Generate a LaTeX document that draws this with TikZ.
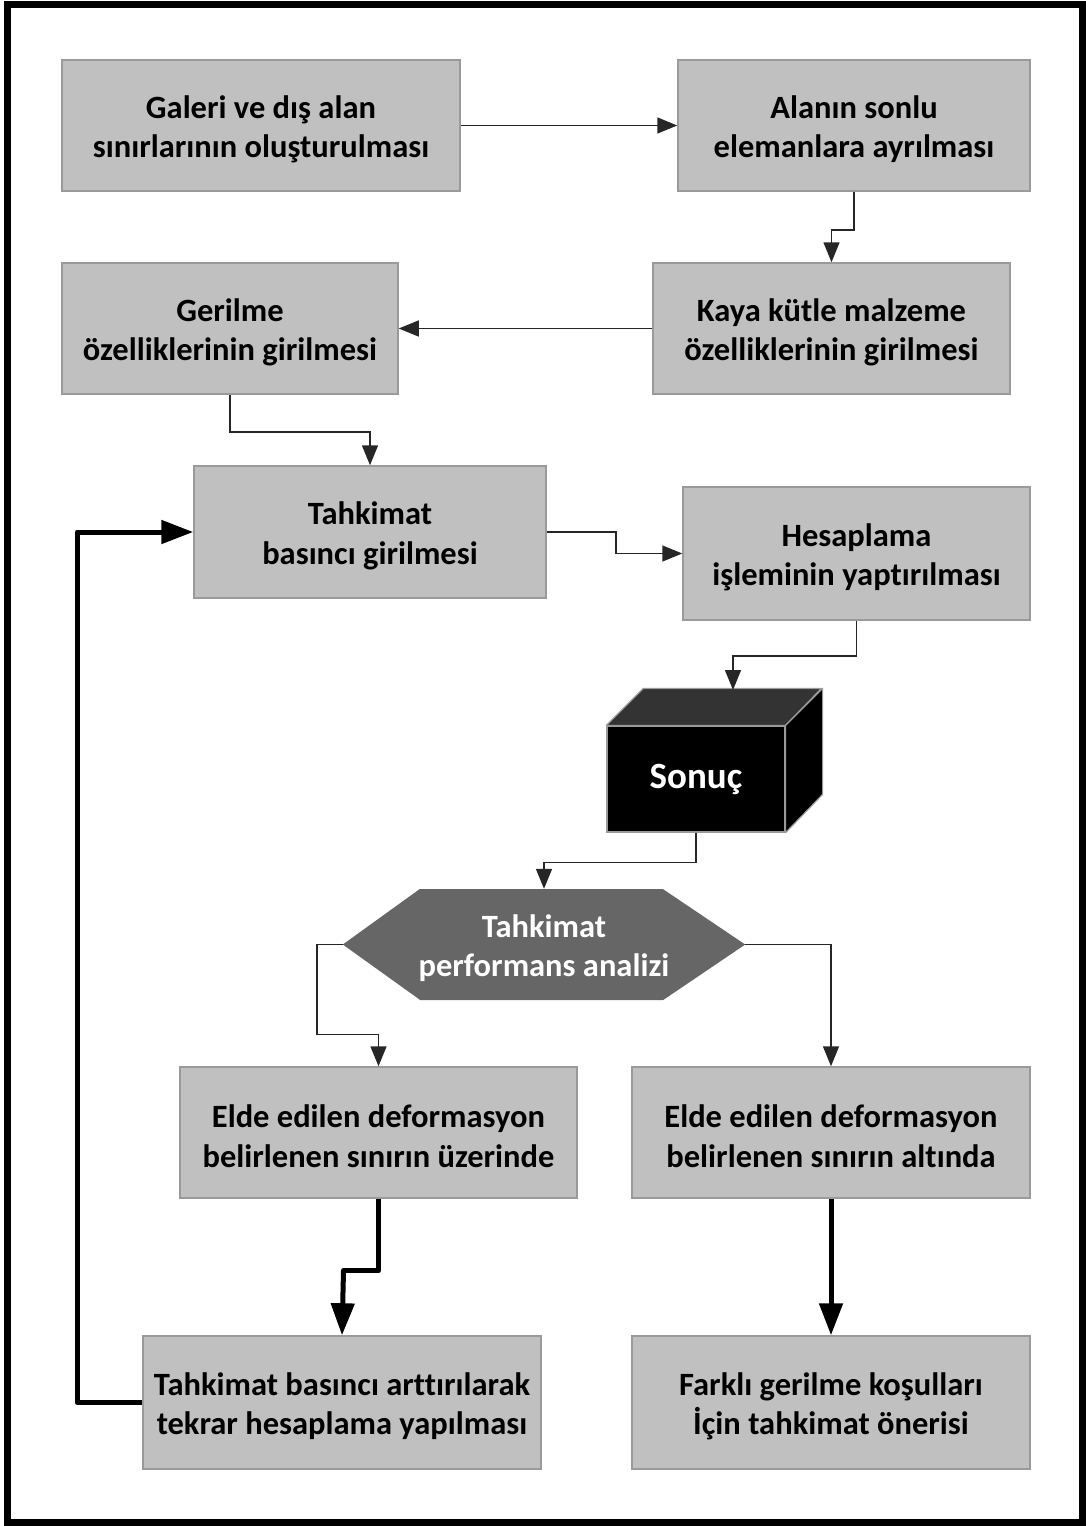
\documentclass[tikz,border=0pt]{standalone}
\usepackage{fontspec}
\setmainfont{Carlito}[Ligatures=NoCommon]
\usetikzlibrary{arrows.meta}
\definecolor{boxfill}{HTML}{C0C0C0}
\definecolor{boxline}{HTML}{9A9A9A}
\definecolor{hexfill}{HTML}{666666}
\definecolor{cubetop}{HTML}{333333}
\newcommand{\topstrut}{\rule{0pt}{30pt}}
\tikzset{
  boxfont/.style={font=\fontsize{32.5}{39.5}\selectfont\bfseries},
  procbox/.style={draw=boxline, line width=1.5pt, fill=boxfill, inner sep=0pt, align=center,
    boxfont, text=black},
  thinarrow/.style={draw=black!85, line width=1.5pt, -{Triangle[length=20pt,width=16pt]}},
  thickarrow/.style={draw=black, line width=5pt, -{Triangle[length=32pt,width=23pt]}},
  thickline/.style={draw=black, line width=5pt, line join=round},
}
\begin{document}
\begin{tikzpicture}[x=1pt,y=-1pt]
\useasboundingbox (0,0) rectangle (1086,1526);
\draw[line width=7pt, line join=miter] (7,4) rectangle (1082.5,1522.5);

% boxes
\node[procbox, minimum width=398pt, minimum height=131pt] (galeri) at (261,125.5) {\topstrut Galeri ve dış alan\\sınırlarının oluşturulması};
\node[procbox, minimum width=352pt, minimum height=131pt] (alan) at (854,125.5) {\topstrut Alanın sonlu\\elemanlara ayrılması};
\node[procbox, minimum width=336pt, minimum height=131pt] (gerilme) at (230,328.5) {\topstrut Gerilme\\özelliklerinin girilmesi};
\node[procbox, minimum width=357pt, minimum height=131pt] (kaya) at (831.5,328.5) {\topstrut Kaya kütle malzeme\\özelliklerinin girilmesi};
\node[procbox, minimum width=352pt, minimum height=132pt] (tahkimat) at (370,532) {\topstrut Tahkimat\\basıncı girilmesi};
\node[procbox, minimum width=347pt, minimum height=133pt] (hesap) at (856.5,553.5) {\topstrut Hesaplama\\işleminin yaptırılması};
\node[procbox, minimum width=397pt, minimum height=131pt] (ustunde) at (378.5,1132.5) {\topstrut Elde edilen deformasyon\\belirlenen sınırın üzerinde};
\node[procbox, minimum width=398pt, minimum height=131pt] (altinda) at (831,1132.5) {\topstrut Elde edilen deformasyon\\belirlenen sınırın altında};
\node[procbox, minimum width=398pt, minimum height=133pt] (tekrar) at (342,1402.5) {\topstrut Tahkimat basıncı arttırılarak\\tekrar hesaplama yapılması};
\node[procbox, minimum width=398pt, minimum height=133pt] (farkli) at (831,1402.5) {\topstrut Farklı gerilme koşulları\\İçin tahkimat önerisi};

% cube
\node[fill=black, draw=boxline, line width=1.2pt, minimum width=178pt, minimum height=106pt, inner sep=0pt,
  text=white, font=\fontsize{37}{44}\selectfont\bfseries] (sonuc) at (696,779) {Sonuç};
\draw[fill=cubetop, draw=boxline, line width=1.2pt, line join=round]
  (sonuc.north west) -- ++(37,-37) -- ++(178,0) -- (sonuc.north east) -- cycle;
\draw[fill=black, draw=boxline, line width=1.2pt, line join=round]
  (sonuc.north east) -- ++(37,-37) -- ++(0,106) -- (sonuc.south east) -- cycle;
\coordinate (cubetopc) at (733,690);

% hexagon
\node[inner sep=0pt, minimum width=402pt, minimum height=111pt] (perf) at (544,944.5) {};
\fill[hexfill] (perf.west) -- ++(77,-55.5) -- ++(243,0) -- (perf.east) -- ++(-82,55.5) -- ++(-243,0) -- cycle;
\node[text=white, align=center, boxfont, inner sep=0pt] (perftext) at (perf.center) {\topstrut Tahkimat\\performans analizi};

% connectors
\draw[thinarrow] (galeri.east) -- (alan.west);
\draw[thinarrow] (alan.south) -- ++(0,38) -| (kaya.north);
\draw[thinarrow] (kaya.west) -- (gerilme.east);
\draw[thinarrow] (gerilme.south) -- ++(0,37) -| (tahkimat.north);
\draw[thinarrow] (tahkimat.east) -- ++(69,0) |- (hesap.west);
\draw[thinarrow] (hesap.south) -- ++(0,35) -| (cubetopc);
\draw[thinarrow] (sonuc.south) -- ++(0,30) -| (perf.north);
\draw[thinarrow] (perf.west) -- ++(-26,0) -- ++(0,90) -| (ustunde.north);
\draw[thinarrow] (perf.east) -| (altinda.north);

\draw[thickline] (ustunde.south) -- ++(0,72) -- ++(-35,0) -- ++(0,10);
\draw[thickarrow] (ustunde.south) ++(-35,72) -- (tekrar.north);
\draw[thickarrow] (altinda.south) -- (farkli.north);
\draw[thickarrow, line join=round] (tekrar.west) -- ++(-65,0) |- (tahkimat.west);
\end{tikzpicture}
\end{document}
